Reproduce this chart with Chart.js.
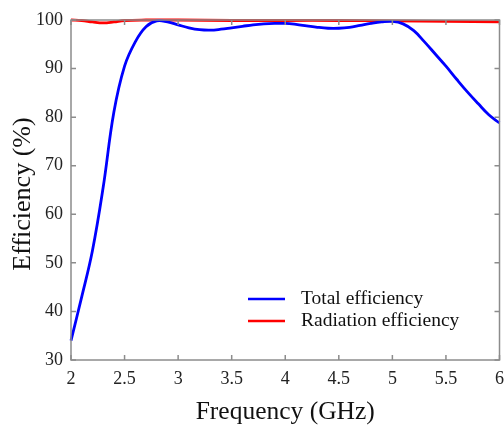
<!DOCTYPE html>
<html><head><meta charset="utf-8">
<script src="https://cdn.jsdelivr.net/npm/chart.js@4.4.1/dist/chart.umd.min.js"></script>
<style>html,body{margin:0;padding:0;background:#fff}#wrap{width:504px;height:425px}</style>
</head><body><div id="wrap"><canvas id="c" width="504" height="425"></canvas></div>
<script>
const totalFreq = [2.0,2.1,2.2,2.3,2.4,2.5,2.6,2.7,2.8,2.9,3.0,3.1,3.2,3.3,3.4,3.5,3.6,3.7,3.8,3.9,4.0,4.1,4.2,4.3,4.4,4.5,4.6,4.7,4.8,4.9,5.0,5.1,5.2,5.3,5.4,5.5,5.6,5.7,5.8,5.9,6.0];
const totalEff = [34,43,52.5,65.5,81,90.5,95.5,98.6,99.8,99.6,99.0,98.4,98.0,97.9,98.1,98.4,98.7,99.0,99.2,99.3,99.3,99.1,98.8,98.5,98.3,98.3,98.5,98.9,99.3,99.6,99.7,99.2,97.8,95.5,93.0,90.5,87.8,85.2,82.8,80.5,78.8];
const radFreq = [2.0,2.1,2.2,2.3,2.4,2.5,2.7,3.0,3.5,4.0,4.5,5.0,5.5,6.0];
const radEff = [100,99.9,99.6,99.4,99.6,99.9,100,100,99.9,99.9,99.9,99.8,99.7,99.6];
const seriesNames = ['Total efficiency','Radiation efficiency'];
const xTitle = 'Frequency (GHz)';
const yTitle = 'Efficiency (%)';

const toPts = (xs, ys) => xs.map((x,i)=>({x:x, y:ys[i]}));
const serif = "'Liberation Serif','Times New Roman',serif";

const boxPlugin = {
  id:'box',
  afterDatasetsDraw(chart){
    const {ctx, chartArea:a, scales:{x,y}} = chart;
    ctx.save();
    ctx.strokeStyle = '#8c8c8c';
    ctx.lineWidth = 1.5;
    ctx.strokeRect(a.left, a.top, a.right-a.left, a.bottom-a.top);
    const L = 5;
    ctx.beginPath();
    x.ticks.forEach(t=>{
      const px = x.getPixelForValue(t.value);
      ctx.moveTo(px, a.bottom); ctx.lineTo(px, a.bottom-L);
      ctx.moveTo(px, a.top); ctx.lineTo(px, a.top+L);
    });
    y.ticks.forEach(t=>{
      const py = y.getPixelForValue(t.value);
      ctx.moveTo(a.left, py); ctx.lineTo(a.left+L, py);
      ctx.moveTo(a.right, py); ctx.lineTo(a.right-L, py);
    });
    ctx.stroke();
    // y axis title
    ctx.save();
    ctx.translate(30, 194);
    ctx.rotate(-Math.PI/2);
    ctx.fillStyle = '#111';
    ctx.font = "26px " + serif;
    ctx.textAlign = 'center'; ctx.textBaseline = 'alphabetic';
    ctx.fillText(yTitle, 0, 0);
    ctx.restore();
    // legend
    const lx = 248, ly = 299, gap = 22;
    chart.data.datasets.forEach((d,i)=>{
      const yy = ly + i*gap;
      ctx.strokeStyle = d.borderColor; ctx.lineWidth = 2.5;
      ctx.beginPath(); ctx.moveTo(lx, yy); ctx.lineTo(lx+37, yy); ctx.stroke();
      ctx.fillStyle = '#111';
      ctx.font = "19.5px " + serif;
      ctx.textBaseline = 'middle'; ctx.textAlign='left';
      ctx.fillText(d.label, lx+53, yy);
    });
    ctx.restore();
  }
};

new Chart(document.getElementById('c'), {
  type:'line',
  data:{datasets:[
    {label:seriesNames[0], data:toPts(totalFreq,totalEff), borderColor:'#0000ff', borderWidth:2.8, pointRadius:0, tension:0.4, clip:6},
    {label:seriesNames[1], data:toPts(radFreq,radEff), borderColor:'#ff0000', borderWidth:2.8, pointRadius:0, tension:0.4, clip:6}
  ]},
  options:{
    responsive:false, animation:false,
    layout:{padding:{left:0,right:3,top:20,bottom:0}},
    plugins:{legend:{display:false}, tooltip:{enabled:false}},
    scales:{
      x:{type:'linear', min:2, max:6,
        ticks:{stepSize:0.5, color:'#222', font:{family:serif,size:18}, padding:0, maxRotation:0,
          callback:v=>String(v)},
        grid:{display:false}, border:{display:false},
        title:{display:true, text:xTitle, color:'#111', font:{family:serif,size:25.5}, padding:{top:0,bottom:-3}},
        afterFit(s){ s.height = 65; }
      },
      y:{min:30, max:100,
        ticks:{stepSize:10, color:'#222', font:{family:serif,size:18}, padding:0},
        grid:{display:false}, border:{display:false},
        title:{display:false},
        afterFit(s){ s.width = 71; }
      }
    }
  },
  plugins:[boxPlugin]
});
</script></body></html>
